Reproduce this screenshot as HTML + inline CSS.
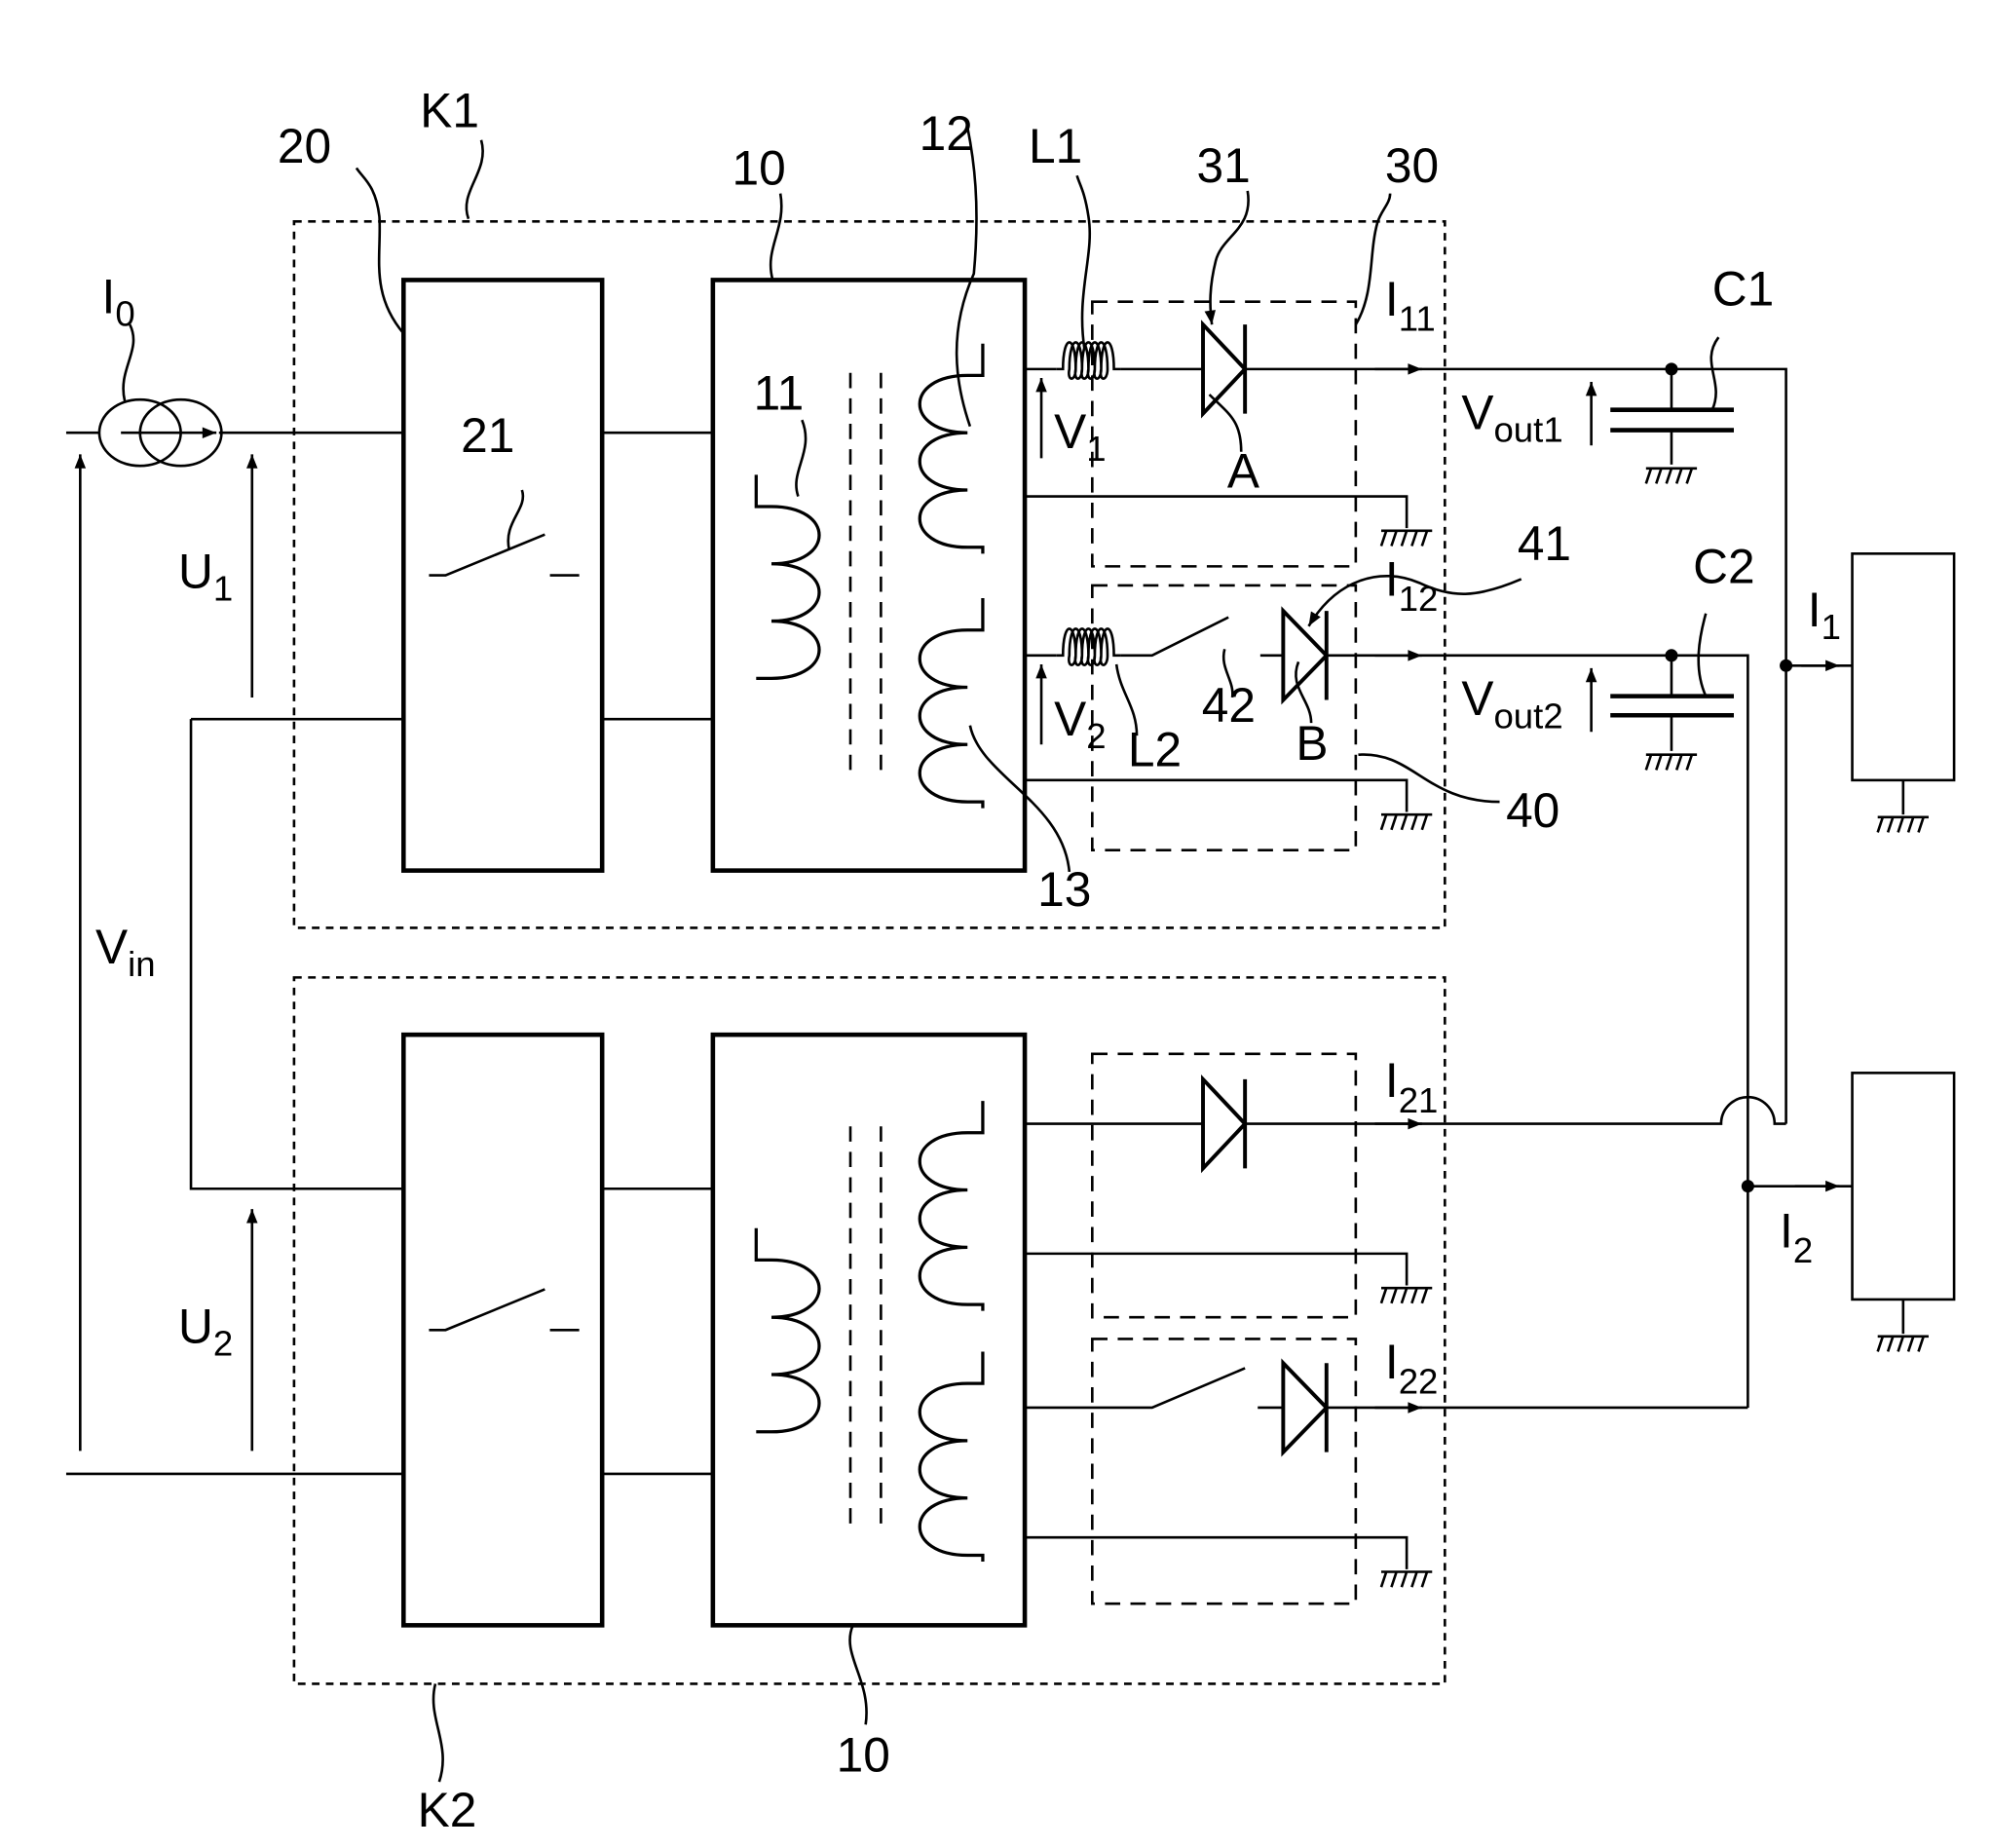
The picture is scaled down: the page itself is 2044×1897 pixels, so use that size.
<!DOCTYPE html>
<html><head><meta charset="utf-8"><style>
html,body{margin:0;padding:0;background:#fff}
svg{display:block}
text{font-family:"Liberation Sans",Arial,sans-serif;font-size:38px;fill:#000}
.s{font-size:28px}
</style></head><body>
<svg width="2044" height="1897" viewBox="0 0 1564 1452" preserveAspectRatio="none" xmlns="http://www.w3.org/2000/svg">
<defs>
<marker id="ah" viewBox="0 0 10 10" refX="10" refY="5" markerWidth="13" markerHeight="11" orient="auto" markerUnits="userSpaceOnUse"><path d="M0,1 L10,5 L0,9 z" fill="#000"/></marker>
<g id="gnd" stroke="#000" stroke-width="2" fill="none"><path d="M-20,0 H20 M-20,12 L-16,0 M-12,12 L-8,0 M-4,12 L0,0 M4,12 L8,0 M12,12 L16,0"/></g>
<path id="coilR" d="M0,0 V25 H-12 C-62,25 -62,70 -12,70 C-62,70 -62,115 -12,115 C-62,115 -62,160 -12,160 H0 V165" fill="none" stroke="#000" stroke-width="2.5"/>
<path id="coilL" d="M0,0 V25 H12 C62,25 62,70 12,70 C62,70 62,115 12,115 C62,115 62,160 12,160 H0 V160" fill="none" stroke="#000" stroke-width="2.5"/>
<path id="ind" d="M0,0 H5 C5,-28 15,-28 15,0 C15,10 8,10 10,0 C10,-28 20,-28 20,0 C20,10 13,10 15,0 C15,-28 25,-28 25,0 C25,10 18,10 20,0 C20,-28 30,-28 30,0 C30,10 23,10 25,0 C25,-28 35,-28 35,0 C35,10 28,10 30,0 C30,-28 40,-28 40,0 C40,10 33,10 35,0 C35,-28 45,-28 45,0 H50" fill="none" stroke="#000" stroke-width="2"/>
</defs>
<g fill="none" stroke="#000" stroke-width="2">
<rect x="231" y="174" width="904" height="555" stroke-dasharray="6,5"/>
<rect x="231" y="768" width="904" height="555" stroke-dasharray="6,5"/>
<g stroke-width="3.5">
<rect x="317" y="220" width="156" height="464"/>
<rect x="560" y="220" width="245" height="464"/>
<rect x="317" y="813" width="156" height="464"/>
<rect x="560" y="813" width="245" height="464"/>
</g>
<path d="M52,340 H78 M172,340 H317 M473,340 H560 M473,565 H560 M150,565 H317 M150,565 V934 H317 M473,934 H560 M52,1158 H317 M473,1158 H560"/>
<ellipse cx="110" cy="340" rx="32" ry="26"/>
<ellipse cx="142" cy="340" rx="32" ry="26"/>
<path d="M95,340 H170" marker-end="url(#ah)"/>
<path d="M63,1140 V357" marker-end="url(#ah)"/>
<path d="M198,548 V357" marker-end="url(#ah)"/>
<path d="M198,1140 V950" marker-end="url(#ah)"/>
<path d="M337,452 H350 L428,420 M432,452 H455"/>
<path d="M337,1045 H350 L428,1013 M432,1045 H455"/>
<use href="#coilL" x="594" y="373"/>
<use href="#coilR" x="772" y="270"/>
<use href="#coilR" x="772" y="470"/>
<path d="M668,293 V610 M692,293 V610" stroke-dasharray="12,8"/>
<use href="#coilL" x="594" y="965"/>
<use href="#coilR" x="772" y="865"/>
<use href="#coilR" x="772" y="1062"/>
<path d="M668,885 V1205 M692,885 V1205" stroke-dasharray="12,8"/>
<g stroke-dasharray="12,8">
<rect x="858" y="237" width="207" height="208"/>
<rect x="858" y="460" width="207" height="208"/>
<rect x="858" y="828" width="207" height="207"/>
<rect x="858" y="1052" width="207" height="208"/>
</g>
<path d="M805,290 H830 M880,290 H945 M978,290 H1403 V883"/>
<use href="#ind" x="830" y="290"/>
<path d="M945,255 V325 L978,290 Z M978,255 V325" stroke-width="3"/>
<path d="M1080,290 H1117" marker-end="url(#ah)"/>
<path d="M805,390 H1105 V415"/>
<use href="#gnd" x="1105" y="417"/>
<path d="M818,360 V297" marker-end="url(#ah)"/>
<path d="M805,515 H830 M880,515 H905 L965,485 M990,515 H1008 M1042,515 H1373 V1106"/>
<use href="#ind" x="830" y="515"/>
<path d="M1008,480 V550 L1042,515 Z M1042,480 V550" stroke-width="3"/>
<path d="M1080,515 H1117" marker-end="url(#ah)"/>
<path d="M805,613 H1105 V638"/>
<use href="#gnd" x="1105" y="640"/>
<path d="M818,585 V522" marker-end="url(#ah)"/>
<path d="M1313,290 V322 M1313,338 V365 M1313,515 V547 M1313,562 V590"/>
<path d="M1265,322 H1362 M1265,338 H1362 M1265,547 H1362 M1265,562 H1362" stroke-width="3.5"/>
<use href="#gnd" x="1313" y="368"/>
<use href="#gnd" x="1313" y="593"/>
<path d="M1250,350 V300" marker-end="url(#ah)"/>
<path d="M1250,575 V525" marker-end="url(#ah)"/>
<rect x="1455" y="435" width="80" height="178"/>
<rect x="1455" y="843" width="80" height="178"/>
<path d="M1495,613 V640 M1495,1021 V1048"/>
<use href="#gnd" x="1495" y="642"/>
<use href="#gnd" x="1495" y="1050"/>
<path d="M1403,523 H1455"/>
<path d="M1415,523 H1445" marker-end="url(#ah)"/>
<path d="M1373,932 H1455"/>
<path d="M1410,932 H1445" marker-end="url(#ah)"/>
<path d="M805,883 H945 M978,883 H1352 A21,21 0 0 1 1394,883 H1403"/>
<path d="M945,848 V918 L978,883 Z M978,848 V918" stroke-width="3"/>
<path d="M1080,883 H1117" marker-end="url(#ah)"/>
<path d="M805,985 H1105 V1010"/>
<use href="#gnd" x="1105" y="1012"/>
<path d="M805,1106 H905 L978,1075 M988,1106 H1008 M1042,1106 H1373"/>
<path d="M1008,1071 V1141 L1042,1106 Z M1042,1071 V1141" stroke-width="3"/>
<path d="M1080,1106 H1117" marker-end="url(#ah)"/>
<path d="M805,1208 H1105 V1233"/>
<use href="#gnd" x="1105" y="1235"/>
<path d="M368,172 C360,150 385,135 378,110"/>
<path d="M317,262 C290,230 300,200 298,170 C295,145 285,140 280,132"/>
<path d="M607,220 C600,195 618,180 613,152"/>
<path d="M762,335 C750,300 745,260 765,215 C770,160 765,125 760,100"/>
<path d="M852,275 C845,230 860,200 855,170 C852,150 848,145 846,138"/>
<path d="M980,150 C985,180 960,185 955,205 C950,225 950,240 952,255" marker-end="url(#ah)"/>
<path d="M1065,255 C1080,230 1075,200 1082,175 C1085,165 1092,160 1092,152"/>
<path d="M1345,322 C1355,300 1335,285 1350,265"/>
<path d="M627,390 C620,370 640,355 630,330"/>
<path d="M400,432 C395,410 415,400 410,385"/>
<path d="M950,310 C965,325 975,330 975,355"/>
<path d="M1195,455 C1160,470 1140,470 1115,458 C1085,445 1050,455 1028,492" marker-end="url(#ah)"/>
<path d="M1340,547 C1330,525 1335,500 1340,482"/>
<path d="M962,510 C958,525 970,535 968,548"/>
<path d="M877,522 C880,545 893,555 893,578"/>
<path d="M1020,520 C1012,540 1030,550 1030,568"/>
<path d="M1067,593 C1110,590 1120,630 1178,630"/>
<path d="M762,570 C770,610 835,630 840,685"/>
<path d="M670,1277 C660,1300 685,1320 680,1355"/>
<path d="M342,1323 C335,1350 355,1370 345,1400"/>
<path d="M98,315 C92,290 112,275 102,255"/>
</g>
<g fill="#000">
<circle cx="1313" cy="290" r="5"/>
<circle cx="1313" cy="515" r="5"/>
<circle cx="1403" cy="523" r="5"/>
<circle cx="1373" cy="932" r="5"/>
</g>
<text x="330" y="100">K1</text>
<text x="218" y="128">20</text>
<text x="575" y="145">10</text>
<text x="722" y="118">12</text>
<text x="808" y="128">L1</text>
<text x="940" y="143">31</text>
<text x="1088" y="143">30</text>
<text x="1345" y="240">C1</text>
<text x="592" y="322">11</text>
<text x="362" y="355">21</text>
<text x="80" y="246">I<tspan class="s" dy="10">0</tspan></text>
<text x="140" y="462">U<tspan class="s" dy="10">1</tspan></text>
<text x="75" y="757">V<tspan class="s" dy="10">in</tspan></text>
<text x="140" y="1055">U<tspan class="s" dy="10">2</tspan></text>
<text x="1088" y="248">I<tspan class="s" dy="12">11</tspan></text>
<text x="1088" y="468">I<tspan class="s" dy="12">12</tspan></text>
<text x="1088" y="862">I<tspan class="s" dy="12">21</tspan></text>
<text x="1088" y="1083">I<tspan class="s" dy="12">22</tspan></text>
<text x="964" y="383">A</text>
<text x="1192" y="440">41</text>
<text x="1330" y="458">C2</text>
<text x="1420" y="492">I<tspan class="s" dy="10">1</tspan></text>
<text x="1398" y="980">I<tspan class="s" dy="12">2</tspan></text>
<text x="944" y="567">42</text>
<text x="886" y="602">L2</text>
<text x="1018" y="597">B</text>
<text x="828" y="352">V<tspan class="s" dy="10">1</tspan></text>
<text x="828" y="578">V<tspan class="s" dy="10">2</tspan></text>
<text x="1148" y="337">V<tspan class="s" dy="10">out1</tspan></text>
<text x="1148" y="562">V<tspan class="s" dy="10">out2</tspan></text>
<text x="1183" y="650">40</text>
<text x="815" y="712">13</text>
<text x="657" y="1392">10</text>
<text x="328" y="1435">K2</text>
</svg>
</body></html>
